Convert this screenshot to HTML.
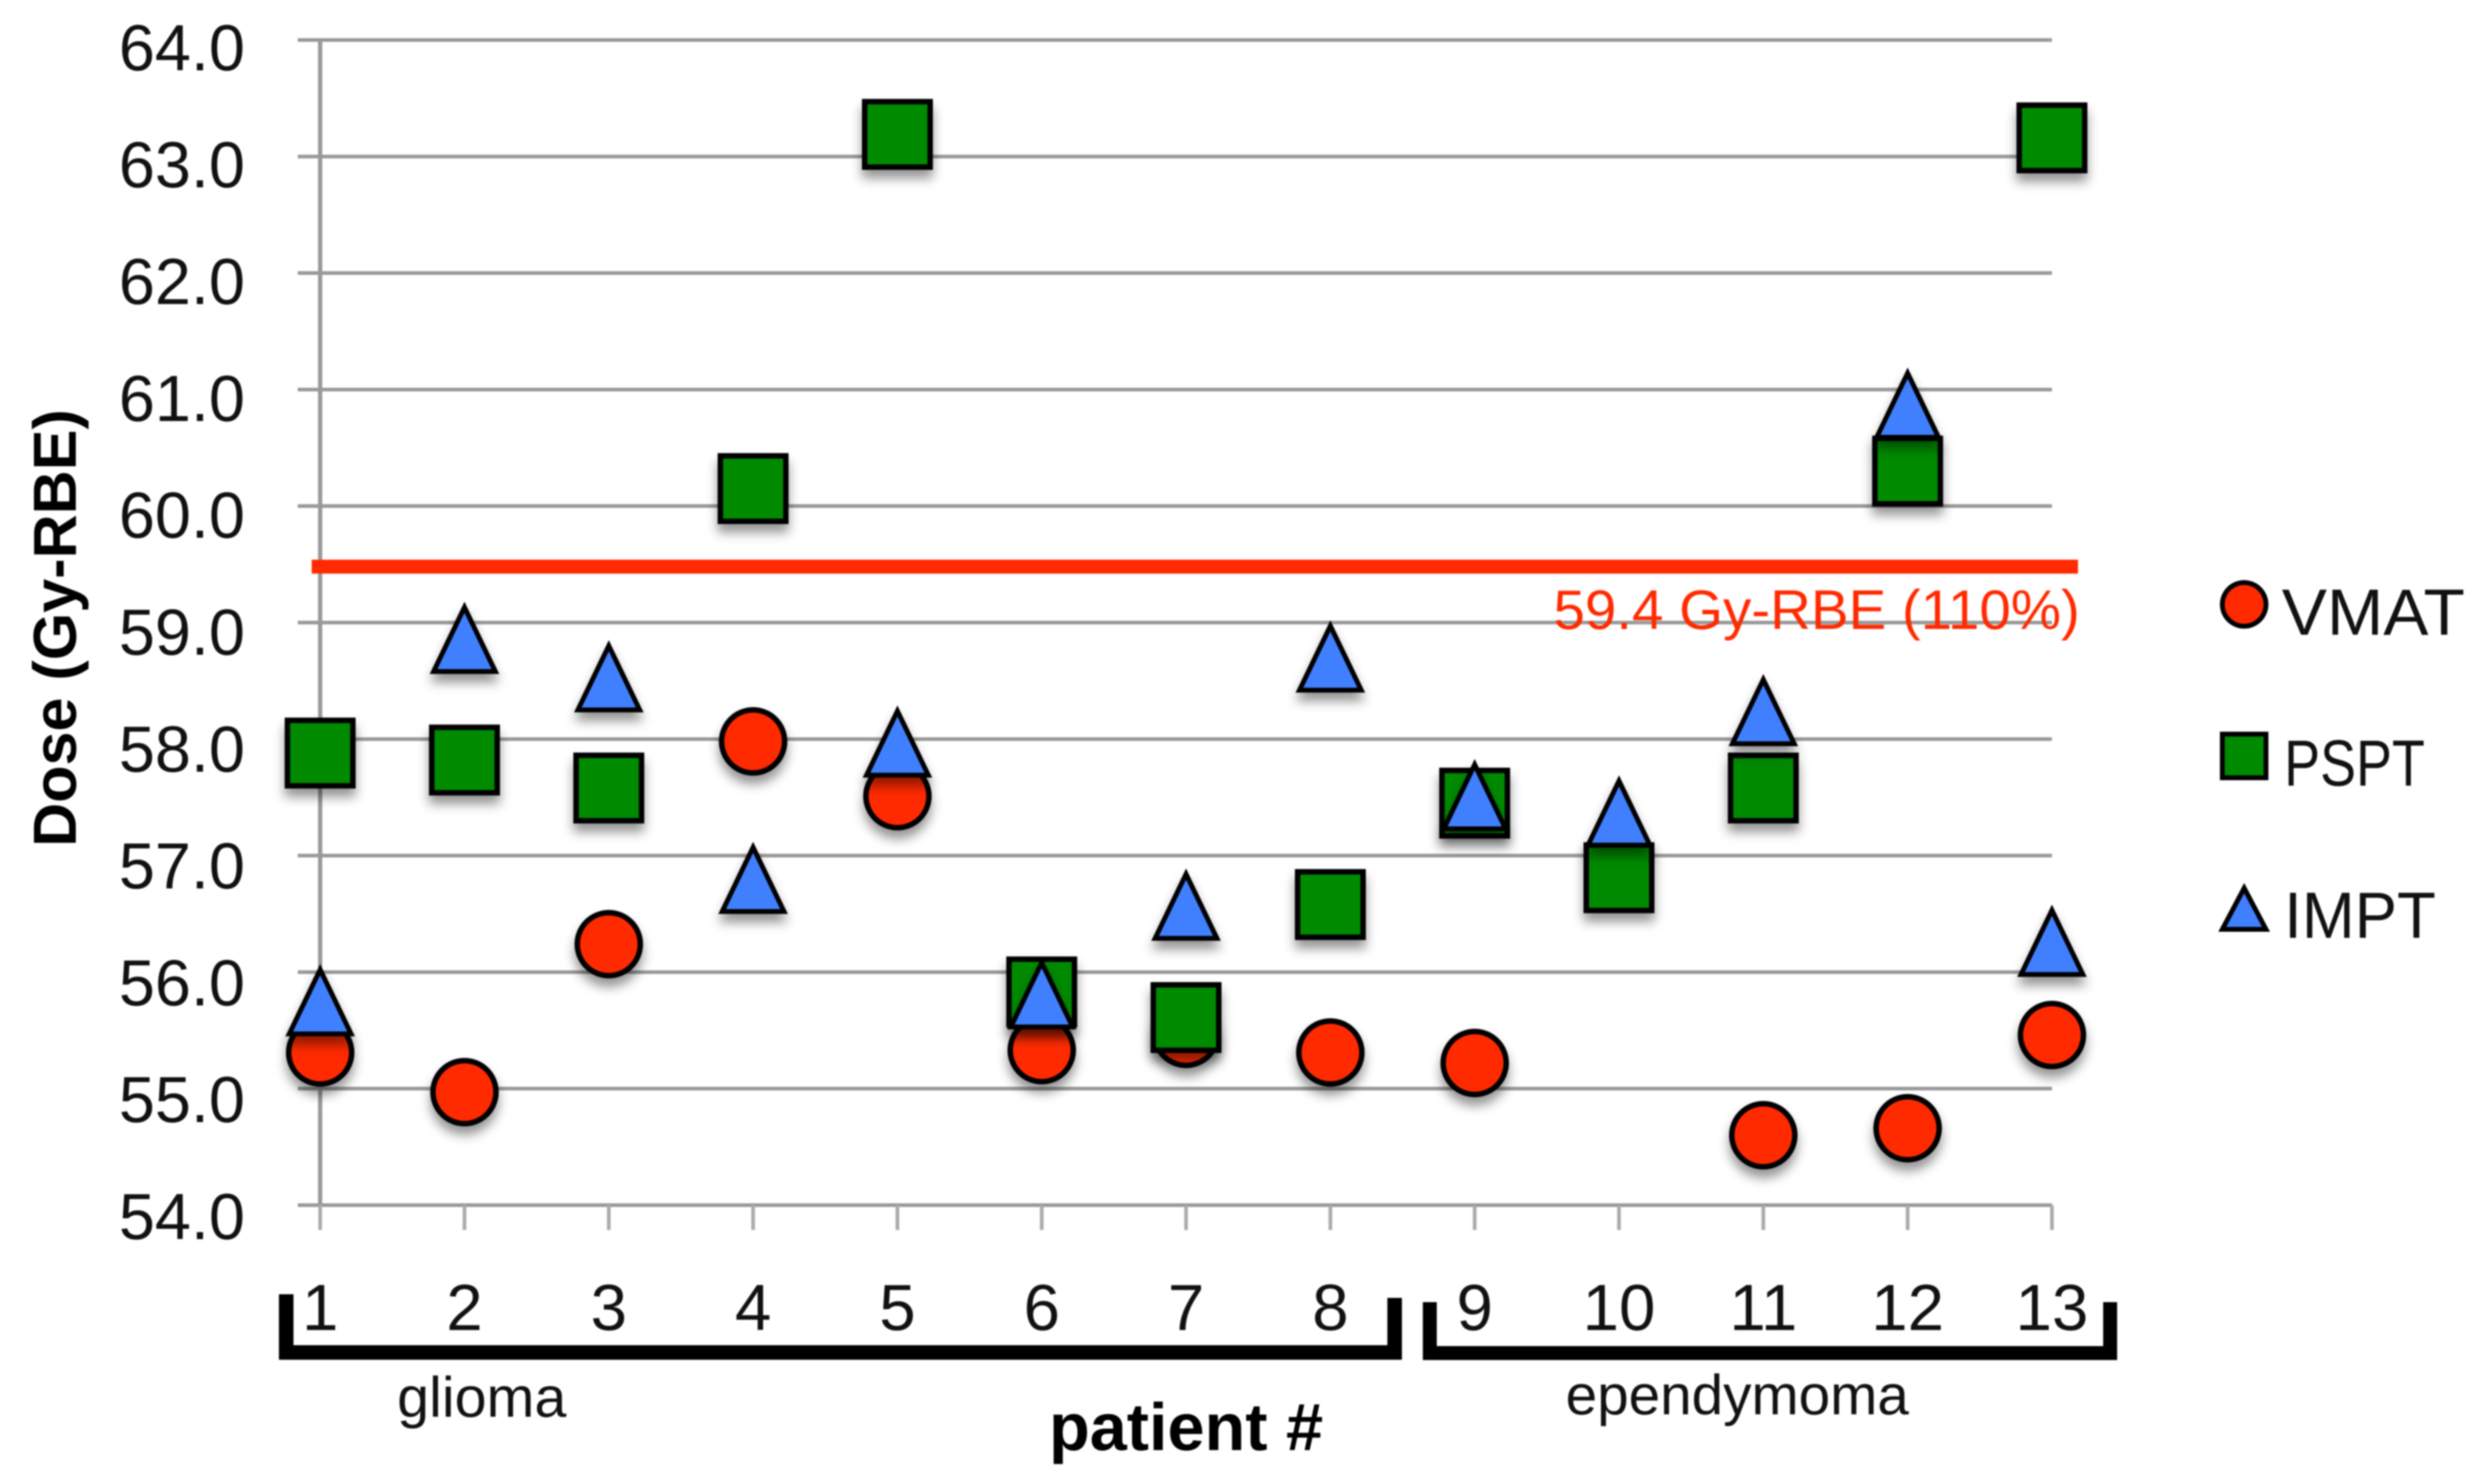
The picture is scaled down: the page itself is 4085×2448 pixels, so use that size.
<!DOCTYPE html>
<html lang="en">
<head>
<meta charset="utf-8">
<title>Dose by patient</title>
<style>
html,body{margin:0;padding:0;background:#fff;width:4085px;height:2448px;overflow:hidden}
svg{display:block;font-family:"Liberation Sans",sans-serif;filter:blur(1.2px)}
</style>
</head>
<body>
<svg id="chart" xmlns="http://www.w3.org/2000/svg" width="4085" height="2448" viewBox="0 0 4085 2448">
  <defs>
    <filter id="shadow" x="-40%" y="-40%" width="180%" height="200%">
      <feDropShadow dx="0" dy="14" stdDeviation="9" flood-color="#000" flood-opacity="0.42"/>
    </filter>
  </defs>
  <rect width="4085" height="2448" fill="#fff"/>
  <g id="grid"></g>
  <g id="axes"></g>
  <g id="marks"></g>
  <g id="threshold"></g>

  <text x="125" y="1036" transform="rotate(-90 125 1036)" text-anchor="middle" font-size="100" font-weight="700" textLength="722" lengthAdjust="spacingAndGlyphs" fill="#000">Dose (Gy-RBE)</text>
  <text x="1956" y="2392" text-anchor="middle" font-size="110" font-weight="700" textLength="452" lengthAdjust="spacingAndGlyphs" fill="#000">patient #</text>

  <path d="M472 2135V2231H2300V2141" fill="none" stroke="#000" stroke-width="24"/>
  <path d="M2358 2148V2232H3480V2148" fill="none" stroke="#000" stroke-width="23"/>
  <text x="655" y="2337" font-size="94" textLength="279" lengthAdjust="spacingAndGlyphs" fill="#111">glioma</text>
  <text x="2582" y="2333" font-size="93" textLength="566" lengthAdjust="spacingAndGlyphs" fill="#111">ependymoma</text>

  <g>
    <g>
      <circle cx="3701" cy="997" r="36" fill="#ff2a00" stroke="#000" stroke-width="8"/>
      <text x="3763" y="1047" font-size="108" textLength="302" lengthAdjust="spacingAndGlyphs" fill="#111">VMAT</text>
    </g>
    <g>
      <rect x="3665" y="1211" width="72" height="72" fill="#008a00" stroke="#000" stroke-width="8"/>
      <text x="3767" y="1296" font-size="108" textLength="232" lengthAdjust="spacingAndGlyphs" fill="#111">PSPT</text>
    </g>
    <g>
      <path d="M3701 1465L3737 1533H3665Z" fill="#4080ff" stroke="#000" stroke-width="8" stroke-linejoin="miter"/>
      <text x="3767" y="1547" font-size="108" textLength="250" lengthAdjust="spacingAndGlyphs" fill="#111">IMPT</text>
    </g>
  </g>
</svg>
<script>
const patients = [1, 2, 3, 4, 5, 6, 7, 8, 9, 10, 11, 12, 13];
const yTicks = [64, 63, 62, 61, 60, 59, 58, 57, 56, 55, 54];
const vmat = [55.31, 54.97, 56.24, 57.98, 57.51, 55.33, 55.47, 55.31, 55.22, null, 54.60, 54.66, 55.46];
const pspt = [57.88, 57.82, 57.58, 60.15, 63.19, 55.83, 55.61, 56.58, 57.45, 56.81, 57.58, 60.30, 63.16];
const impt = [55.73, 58.84, 58.51, 56.78, 57.95, 55.79, 56.55, 58.68, 57.49, 57.35, 58.22, 60.85, 56.24];
const thresholdValue = [59.48];
const thresholdLabel = ["59.4 Gy-RBE (110%)"];

const NS = "http://www.w3.org/2000/svg";
function xScale(p) { return 528 + (p - 1) * 238; }
function yScale(v) { return 66 + (64 - v) * 192.2; }
function make(parent, tag, props) {
  const node = document.createElementNS(NS, tag);
  for (const k in props) node.setAttribute(k, props[k]);
  parent.appendChild(node);
  return node;
}

const grid = document.getElementById("grid");
const axes = document.getElementById("axes");
const marks = document.getElementById("marks");
const threshold = document.getElementById("threshold");
const svgRoot = document.getElementById("chart");
const xRight = xScale(patients[patients.length - 1]);

yTicks.forEach(function (t) {
  const line = make(grid, "line", { x1: 491, x2: xRight, y1: yScale(t), y2: yScale(t), stroke: "#999", "stroke-width": 6 });
  
  
  const label = make(svgRoot, "text", { x: 404, y: yScale(t) + 50 + (64 - t) * 0.6, "text-anchor": "end", "font-size": 108, fill: "#111", textLength: 208, lengthAdjust: "spacingAndGlyphs" });
  label.textContent = t.toFixed(1);
  
  
});

const yAxis = make(axes, "line", { x1: xScale(1), x2: xScale(1), y1: yScale(64), y2: yScale(54), stroke: "#999", "stroke-width": 7 });



patients.forEach(function (p) {
  const tick = make(axes, "line", { x1: xScale(p), x2: xScale(p), y1: yScale(54), y2: yScale(54) + 41, stroke: "#aaa", "stroke-width": 6 });
  
  
  const label = make(svgRoot, "text", { x: xScale(p), y: 2194, "text-anchor": "middle", "font-size": 108, fill: "#111" });
  label.textContent = String(p);
  
  
});

patients.forEach(function (p, i) {
  if (vmat[i] === null) return;
  const c = make(marks, "circle", { cx: xScale(p), cy: yScale(vmat[i]), r: 52, fill: "#ff2a00", stroke: "#000", "stroke-width": 9, filter: "url(#shadow)" });
  
  
});
patients.forEach(function (p, i) {
  const s = make(marks, "rect", { x: xScale(p) - 54, y: yScale(pspt[i]) - 54, width: 108, height: 108, fill: "#008a00", stroke: "#000", "stroke-width": 9, filter: "url(#shadow)" });
  
  
});
patients.forEach(function (p, i) {
  const cx = xScale(p), cy = yScale(impt[i]);
  const t = make(marks, "path", { d: "M" + cx + " " + (cy - 56) + "L" + (cx + 51) + " " + (cy + 50) + "H" + (cx - 51) + "Z", fill: "#4080ff", stroke: "#000", "stroke-width": 8, "stroke-linejoin": "miter", filter: "url(#shadow)" });
  
  
});

const refLine = make(threshold, "line", { x1: 514, x2: 3427, y1: yScale(thresholdValue[0]), y2: yScale(thresholdValue[0]), stroke: "#ff2a00", "stroke-width": 23 });


const refLabel = make(threshold, "text", { x: 3430, y: yScale(thresholdValue[0]) + 103, "text-anchor": "end", "font-size": 92, fill: "#ff2a00", textLength: 868, lengthAdjust: "spacingAndGlyphs" });
refLabel.textContent = thresholdLabel[0];


</script>
</body>
</html>
